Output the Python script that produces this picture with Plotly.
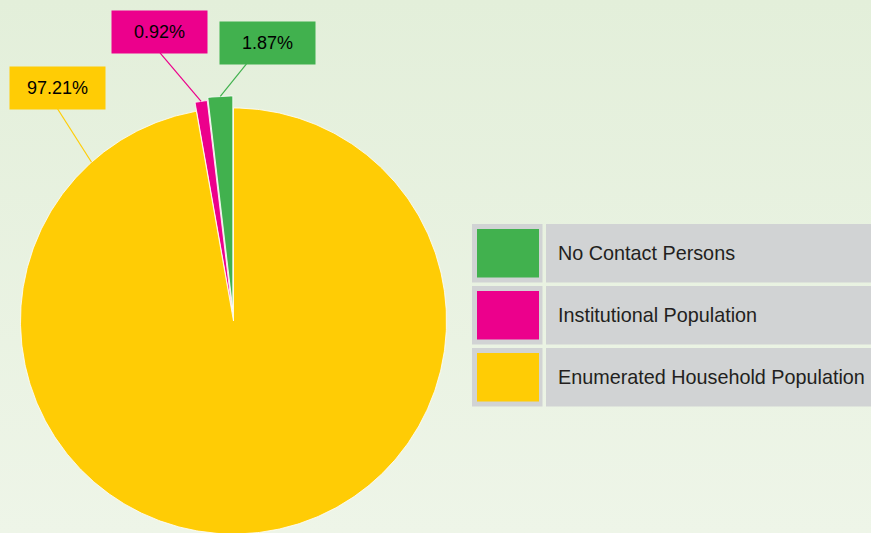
import numpy as np
import plotly.graph_objects as go

# ---- data ----
categories = ["No Contact Persons", "Institutional Population", "Enumerated Household Population"]
values = [1.87, 0.92, 97.21]
value_labels = ["1.87%", "0.92%", "97.21%"]

# ---- style ----
colors = ["#41b14e", "#ec008c", "#ffcc05"]
pulls = [12, 9, 0]                      # px
W, H = 871, 533
CX, CY, R = 233.5, 321.0, 213.0
label_boxes = [(267.5, 42.8), (159.5, 31.8), (57.5, 87.8)]   # box centres (px)
line_start_dx = [-21, 0.5, 0]                                 # leader start along box bottom
leader_angles = [None, None, 131.8]                           # None -> slice mid angle
BOX_W, BOX_H = 95, 42

fig = go.Figure()

# background gradient
fig.add_trace(go.Scatter(
    x=[0, W, W, 0, 0], y=[0, 0, H, H, 0], mode="lines", line=dict(width=0),
    fill="toself", fillcolor="#e8f2e1",
    fillgradient=dict(type="vertical", colorscale=[[0, "#e3efda"], [1, "#eef5e8"]], start=0, stop=H),
    hoverinfo="skip", showlegend=False))

total = sum(values)
start = 90.0
shapes = []
annotations = []
for i, (cat, v) in enumerate(zip(categories, values)):
    a0 = start
    a1 = start + 360.0 * v / total
    mid = np.radians((a0 + a1) / 2)
    dx = pulls[i] * np.cos(mid)
    dy = -pulls[i] * np.sin(mid)
    ang = np.radians(np.linspace(a0, a1, max(int(abs(a1 - a0) * 2), 3)))
    xs = np.concatenate([[CX + dx], CX + dx + R * np.cos(ang), [CX + dx]])
    ys = np.concatenate([[CY + dy], CY + dy - R * np.sin(ang), [CY + dy]])
    fig.add_trace(go.Scatter(
        x=xs, y=ys, mode="lines", fill="toself", fillcolor=colors[i],
        line=dict(color="white", width=0.8), name=cat, hoverinfo="name",
        showlegend=False))

    # leader line tip
    if leader_angles[i] is None:
        tip_x = CX + dx + R * np.cos(mid)
        tip_y = CY + dy - R * np.sin(mid)
    else:
        la = np.radians(leader_angles[i])
        tip_x = CX + R * np.cos(la)
        tip_y = CY - R * np.sin(la)
    bx, by = label_boxes[i]
    shapes.append(dict(type="line", xref="x", yref="y",
                       x0=bx + line_start_dx[i], y0=by + BOX_H / 2, x1=tip_x, y1=tip_y,
                       line=dict(color=colors[i], width=1.2), layer="above"))
    annotations.append(dict(x=bx, y=by, xref="x", yref="y", text=value_labels[i],
                            showarrow=False, width=BOX_W, height=BOX_H, borderpad=0,
                            bgcolor=colors[i], align="center", valign="middle",
                            font=dict(family="Liberation Sans, Arial", size=18, color="#000000")))
    start = a1

# custom legend
row_tops = [224, 286, 348]
ROW_H = 58.5
for i, cat in enumerate(categories):
    t = row_tops[i]
    shapes.append(dict(type="rect", xref="x", yref="y", x0=472, x1=542.5, y0=t, y1=t + ROW_H,
                       fillcolor="#d1d3d4", line=dict(width=0), layer="above"))
    shapes.append(dict(type="rect", xref="x", yref="y", x0=546, x1=W + 5, y0=t, y1=t + ROW_H,
                       fillcolor="#d1d3d4", line=dict(width=0), layer="above"))
    shapes.append(dict(type="rect", xref="x", yref="y", x0=477, x1=539, y0=t + 5, y1=t + 53.5,
                       fillcolor=colors[i], line=dict(width=0), layer="above"))
    annotations.append(dict(x=555.5, y=t + ROW_H / 2, xref="x", yref="y", text=cat,
                            showarrow=False, xanchor="left", yanchor="middle",
                            font=dict(family="Liberation Sans, Arial", size=19.8, color="#231f20")))

fig.update_layout(
    width=W, height=H, margin=dict(l=0, r=0, t=0, b=0),
    paper_bgcolor="#e8f2e1", plot_bgcolor="rgba(0,0,0,0)",
    xaxis=dict(range=[0, W], visible=False, fixedrange=True),
    yaxis=dict(range=[H, 0], visible=False, fixedrange=True),
    shapes=shapes, annotations=annotations, showlegend=False,
)

fig.write_html("out.html", config={"displayModeBar": False},
               post_script="document.body.style.margin='0px';document.body.style.overflow='hidden';")
